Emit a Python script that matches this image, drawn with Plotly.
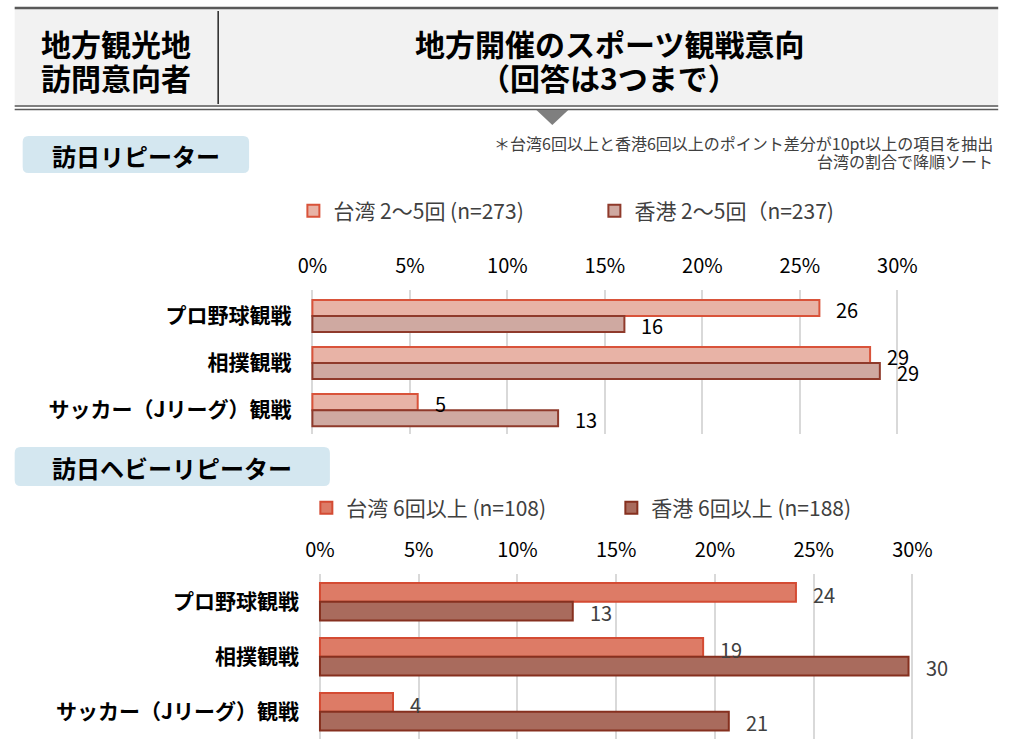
import plotly.graph_objects as go

# ---------------- data ----------------
categories = ["プロ野球観戦", "相撲観戦", "サッカー（Jリーグ）観戦"]

rep_tw_name = "台湾 2～5回 (n=273)"
rep_hk_name = "香港 2～5回（n=237)"
rep_tw = [26.0, 28.6, 5.4]
rep_hk = [16.0, 29.1, 12.6]

hvy_tw_name = "台湾 6回以上 (n=108)"
hvy_hk_name = "香港 6回以上 (n=188)"
hvy_tw = [24.1, 19.4, 3.7]
hvy_hk = [12.8, 29.8, 20.7]

tick_vals = [0, 5, 10, 15, 20, 25, 30]
tick_text = ["0%", "5%", "10%", "15%", "20%", "25%", "30%"]

header_left = ["地方観光地", "訪問意向者"]
header_right = ["地方開催のスポーツ観戦意向", "（回答は3つまで）"]
badge_top = "訪日リピーター"
badge_bottom = "訪日ヘビーリピーター"
note_lines = ["＊台湾6回以上と香港6回以上のポイント差分が10pt以上の項目を抽出",
              "台湾の割合で降順ソート"]

# ---------------- helpers ----------------
W, H = 1024, 747
FONT = "Noto Sans CJK JP"


def X(x):
    # horizontal layout position (compensates the viewer's horizontal fit)
    return (x - 8.3) / 0.98


def px(x):
    return X(x) / W


def py(y):
    return 1 - y / H


fig = go.Figure()

# top chart traces
fig.add_trace(go.Bar(
    y=categories, x=rep_tw, orientation="h", name=rep_tw_name,
    marker=dict(color="#e8b3a6", line=dict(color="#d9533a", width=2)),
    xaxis="x", yaxis="y", legend="legend", hoverinfo="skip"))
fig.add_trace(go.Bar(
    y=categories, x=rep_hk, orientation="h", name=rep_hk_name,
    marker=dict(color="#cfa9a1", line=dict(color="#8f3a2b", width=2)),
    xaxis="x", yaxis="y", legend="legend", hoverinfo="skip"))

# bottom chart traces
fig.add_trace(go.Bar(
    y=categories, x=hvy_tw, orientation="h", name=hvy_tw_name,
    marker=dict(color="#dd7b66", line=dict(color="#d44b33", width=2)),
    xaxis="x2", yaxis="y2", legend="legend2", hoverinfo="skip"))
fig.add_trace(go.Bar(
    y=categories, x=hvy_hk, orientation="h", name=hvy_hk_name,
    marker=dict(color="#a96b5d", line=dict(color="#86301f", width=2)),
    xaxis="x2", yaxis="y2", legend="legend2", hoverinfo="skip"))

annotations = []
# value labels
for vals, ysh, col, ax in [(rep_tw, 6.6, "#000000", "1"), (rep_hk, -9.7, "#000000", "1"),
                           (hvy_tw, 7.7, "#404040", "2"), (hvy_hk, -10.7, "#404040", "2")]:
    for c, v in zip(categories, vals):
        annotations.append(dict(
            x=v, y=c, xref="x" if ax == "1" else "x2", yref="y" if ax == "1" else "y2",
            text=f"{v:.0f}", showarrow=False, xanchor="left", yanchor="middle",
            xshift=15, yshift=ysh, font=dict(family=FONT, size=20, color=col)))

# header texts
for i, t in enumerate(header_left):
    annotations.append(dict(x=px(116), y=py(43 + 34 * i), xref="paper", yref="paper",
                            text=t, showarrow=False, xanchor="center", yanchor="middle",
                            font=dict(family=FONT, size=30, color="#000000", weight="bold")))
for i, t in enumerate(header_right):
    annotations.append(dict(x=px(610), y=py(43 + 34 * i), xref="paper", yref="paper",
                            text=t, showarrow=False, xanchor="center", yanchor="middle",
                            font=dict(family=FONT, size=30, color="#000000", weight="bold")))
# badges text
annotations.append(dict(x=px(136), y=py(155), xref="paper", yref="paper", text=badge_top,
                        showarrow=False, xanchor="center", yanchor="middle",
                        font=dict(family=FONT, size=24, color="#000000", weight="bold")))
annotations.append(dict(x=px(172), y=py(467), xref="paper", yref="paper", text=badge_bottom,
                        showarrow=False, xanchor="center", yanchor="middle",
                        font=dict(family=FONT, size=24, color="#000000", weight="bold")))
# note
for i, t in enumerate(note_lines):
    annotations.append(dict(x=px(997), y=py(143 + 18 * i), xref="paper", yref="paper", text=t,
                            showarrow=False, xanchor="right", yanchor="middle",
                            font=dict(family=FONT, size=16, color="#404040")))

shapes = [
    # header box
    dict(type="rect", xref="paper", yref="paper", x0=px(14), x1=px(1000), y0=py(8), y1=py(107),
         fillcolor="#f2f2f2", line=dict(width=0), layer="below"),
    dict(type="line", xref="paper", yref="paper", x0=px(14), x1=px(1000), y0=py(8), y1=py(8),
         line=dict(color="#595959", width=2.5)),
    dict(type="line", xref="paper", yref="paper", x0=px(14), x1=px(1000), y0=py(106), y1=py(106),
         line=dict(color="#595959", width=1.5)),
    dict(type="line", xref="paper", yref="paper", x0=px(14), x1=px(1000), y0=py(109.5), y1=py(109.5),
         line=dict(color="#595959", width=1.5)),
    dict(type="line", xref="paper", yref="paper", x0=px(218), x1=px(218), y0=py(11), y1=py(104),
         line=dict(color="#262626", width=1.5)),
    dict(type="path", xref="paper", yref="paper",
         path=f"M {px(537)} {py(110)} L {px(569)} {py(110)} L {px(553)} {py(125)} Z",
         fillcolor="#7f7f7f", line=dict(width=0)),
]


def rounded_rect(x0, y0, x1, y1, r):
    X0, X1 = px(x0), px(x1)
    Y0, Y1 = py(y0), py(y1)
    rx, ry = r / W, r / H
    return (f"M {X0 + rx} {Y0} L {X1 - rx} {Y0} Q {X1} {Y0} {X1} {Y0 - ry} "
            f"L {X1} {Y1 + ry} Q {X1} {Y1} {X1 - rx} {Y1} "
            f"L {X0 + rx} {Y1} Q {X0} {Y1} {X0} {Y1 + ry} "
            f"L {X0} {Y0 - ry} Q {X0} {Y0} {X0 + rx} {Y0} Z")


shapes.append(dict(type="path", xref="paper", yref="paper",
                   path=rounded_rect(22, 136, 249, 173, 6),
                   fillcolor="#d4e7f0", line=dict(width=0), layer="below"))
shapes.append(dict(type="path", xref="paper", yref="paper",
                   path=rounded_rect(14, 447, 330, 486, 6),
                   fillcolor="#d4e7f0", line=dict(width=0), layer="below"))

xaxis_common = dict(
    range=[-0.3, 30.3], side="top", tickvals=tick_vals, ticktext=tick_text,
    showgrid=True, gridcolor="#d9d9d9", gridwidth=1.5, zeroline=False,
    showline=False, ticks="", ticklabelstandoff=12,
    tickfont=dict(family=FONT, size=20, color="#000000"), fixedrange=True)
yaxis_common = dict(
    type="category", autorange="reversed", showgrid=False, zeroline=False,
    ticks="", ticklabelstandoff=14,
    tickfont=dict(family=FONT, size=21, color="#000000", weight="bold"), fixedrange=True)

fig.update_layout(
    width=W, height=H, margin=dict(l=0, r=0, t=0, b=0), autosize=False,
    paper_bgcolor="white", plot_bgcolor="white",
    barmode="group", bargap=0.32,
    font=dict(family=FONT),
    xaxis=dict(domain=[px(306.6), px(904.8)], anchor="y", **xaxis_common),
    yaxis=dict(domain=[py(433.7), py(289.7)], anchor="x", **yaxis_common),
    xaxis2=dict(domain=[px(314.1), px(920.0)], anchor="y2", **xaxis_common),
    yaxis2=dict(domain=[py(739.2), py(574.2)], anchor="x2", **yaxis_common),
    legend=dict(orientation="h", x=(X(313) - 20) / W, y=py(211), xanchor="left", yanchor="middle",
                entrywidth=256, entrywidthmode="pixels", bgcolor="rgba(0,0,0,0)",
                font=dict(family=FONT, size=21, color="#404040"), itemclick=False,
                itemdoubleclick=False),
    legend2=dict(orientation="h", x=(X(326) - 20) / W, y=py(508), xanchor="left", yanchor="middle",
                 entrywidth=260, entrywidthmode="pixels", bgcolor="rgba(0,0,0,0)",
                 font=dict(family=FONT, size=21, color="#404040"), itemclick=False,
                 itemdoubleclick=False),
    annotations=annotations, shapes=shapes, showlegend=True,
)
fig.write_html("out.html")
